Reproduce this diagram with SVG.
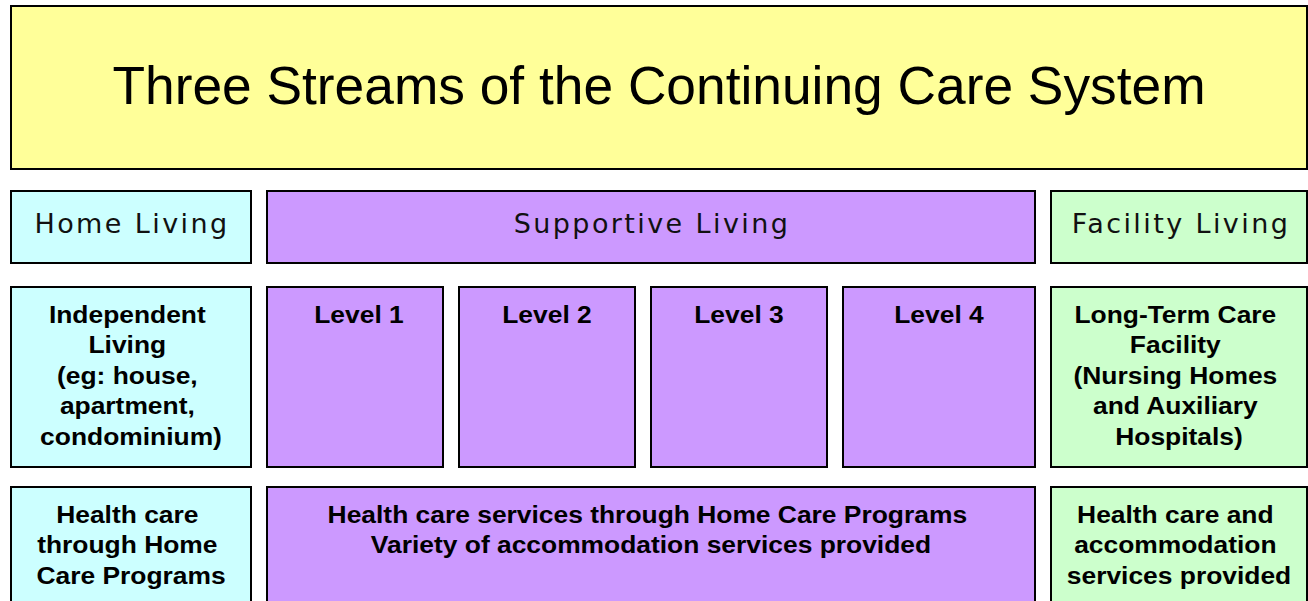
<svg xmlns="http://www.w3.org/2000/svg" width="1308" height="601" viewBox="0 0 1308 601">
  <style>
    .box { stroke: #000; stroke-width: 2; }
    .title { fill: #FFFF99; }
    .home { fill: #CCFFFF; }
    .sup { fill: #CC99FF; }
    .fac { fill: #CCFFCC; }
    .hdr { font-family: "DejaVu Sans", Verdana, sans-serif; font-size: 27px; letter-spacing: 2.4px; fill: #111; text-anchor: middle; }
    .bold { font-family: "Liberation Sans", Arial, sans-serif; font-size: 24px; font-weight: bold; fill: #000; text-anchor: middle; }
    .big { font-family: "Liberation Sans", Arial, sans-serif; font-size: 53.3px; fill: #000; text-anchor: middle; }
  </style>

  <g id="title">
    <rect class="box title" x="11" y="6" width="1296" height="163"/>
    <text class="big" x="659" y="104">Three Streams of the Continuing Care System</text>
  </g>

  <!-- stream headers -->
  <g id="home-living">
    <rect class="box home" x="11" y="191" width="240" height="72"/>
    <text class="hdr" x="132" y="233">Home Living</text>
  </g>
  <g id="supportive-living">
    <rect class="box sup" x="267" y="191" width="768" height="72"/>
    <text class="hdr" x="652" y="233">Supportive Living</text>
  </g>
  <g id="facility-living">
    <rect class="box fac" x="1051" y="191" width="256" height="72"/>
    <text class="hdr" x="1181" y="233">Facility Living</text>
  </g>

  <!-- housing options (bold labels drawn slightly widened) -->
  <g id="independent-living">
    <rect class="box home" x="11" y="287" width="240" height="180"/>
    <g transform="translate(131,0) scale(1.1,1)">
      <text class="bold">
        <tspan x="0" y="323">Independent</tspan>
        <tspan x="0" y="353.5">Living</tspan>
        <tspan x="0" y="384">(eg: house,</tspan>
        <tspan x="0" y="414.5">apartment,</tspan>
        <tspan x="0" y="445">condominium)</tspan>
      </text>
    </g>
  </g>
  <g id="level-1">
    <rect class="box sup" x="267" y="287" width="176" height="180"/>
    <g transform="translate(359,0) scale(1.1,1)"><text class="bold" x="0" y="323">Level 1</text></g>
  </g>
  <g id="level-2">
    <rect class="box sup" x="459" y="287" width="176" height="180"/>
    <g transform="translate(547,0) scale(1.1,1)"><text class="bold" x="0" y="323">Level 2</text></g>
  </g>
  <g id="level-3">
    <rect class="box sup" x="651" y="287" width="176" height="180"/>
    <g transform="translate(739,0) scale(1.1,1)"><text class="bold" x="0" y="323">Level 3</text></g>
  </g>
  <g id="level-4">
    <rect class="box sup" x="843" y="287" width="192" height="180"/>
    <g transform="translate(939,0) scale(1.1,1)"><text class="bold" x="0" y="323">Level 4</text></g>
  </g>
  <g id="long-term-care">
    <rect class="box fac" x="1051" y="287" width="256" height="180"/>
    <g transform="translate(1179,0) scale(1.1,1)">
      <text class="bold">
        <tspan x="0" y="323">Long-Term Care</tspan>
        <tspan x="0" y="353.5">Facility</tspan>
        <tspan x="0" y="384">(Nursing Homes</tspan>
        <tspan x="0" y="414.5">and Auxiliary</tspan>
        <tspan x="0" y="445">Hospitals)</tspan>
      </text>
    </g>
  </g>

  <!-- services -->
  <g id="home-services">
    <rect class="box home" x="11" y="487" width="240" height="130"/>
    <g transform="translate(131,0) scale(1.1,1)">
      <text class="bold">
        <tspan x="0" y="523">Health care</tspan>
        <tspan x="0" y="553.5">through Home</tspan>
        <tspan x="0" y="584">Care Programs</tspan>
      </text>
    </g>
  </g>
  <g id="supportive-services">
    <rect class="box sup" x="267" y="487" width="768" height="130"/>
    <g transform="translate(651,0) scale(1.1,1)">
      <text class="bold">
        <tspan x="0" y="523">Health care services through Home Care Programs</tspan>
        <tspan x="0" y="553.5">Variety of accommodation services provided</tspan>
      </text>
    </g>
  </g>
  <g id="facility-services">
    <rect class="box fac" x="1051" y="487" width="256" height="130"/>
    <g transform="translate(1179,0) scale(1.1,1)">
      <text class="bold">
        <tspan x="0" y="523">Health care and</tspan>
        <tspan x="0" y="553.5">accommodation</tspan>
        <tspan x="0" y="584">services provided</tspan>
      </text>
    </g>
  </g>

  <g id="connectors"/>
</svg>
